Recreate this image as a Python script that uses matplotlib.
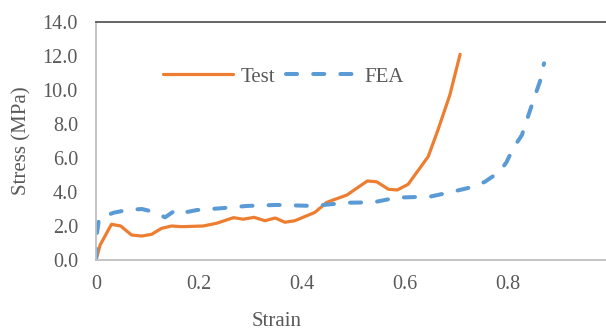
import matplotlib
matplotlib.use("Agg")
import matplotlib.pyplot as plt

test_strain = [0, 0.008, 0.03, 0.048, 0.069, 0.089, 0.108, 0.127, 0.147, 0.166, 0.208,
               0.234, 0.267, 0.286, 0.307, 0.328, 0.348, 0.357, 0.367, 0.386, 0.425,
               0.448, 0.487, 0.527, 0.545, 0.568, 0.585, 0.606, 0.645, 0.664, 0.687, 0.707]
test_stress = [0, 0.88, 2.1, 2.0, 1.47, 1.41, 1.51, 1.86, 2.0, 1.96, 2.0,
               2.16, 2.49, 2.4, 2.51, 2.31, 2.47, 2.35, 2.22, 2.31, 2.8,
               3.39, 3.82, 4.65, 4.6, 4.16, 4.12, 4.45, 6.08, 7.65, 9.7, 12.1]

fea_strain = [0, 0.002, 0.006, 0.034, 0.06, 0.089, 0.111, 0.134, 0.153, 0.163, 0.196,
              0.241, 0.293, 0.351, 0.422, 0.487, 0.538, 0.584, 0.649, 0.687, 0.733,
              0.755, 0.784, 0.797, 0.81, 0.827, 0.843, 0.854, 0.862, 0.87]
fea_stress = [0, 1.6, 2.45, 2.78, 2.94, 3.0, 2.84, 2.51, 2.9, 2.74, 2.94,
              3.04, 3.18, 3.24, 3.18, 3.37, 3.39, 3.67, 3.73, 3.98, 4.31,
              4.6, 5.2, 5.75, 6.57, 7.35, 8.82, 9.8, 10.5, 11.57]

y_ticks = [0, 2, 4, 6, 8, 10, 12, 14]
x_ticks = [0, 0.2, 0.4, 0.6, 0.8]
x_tick_labels = ["0", "0.2", "0.4", "0.6", "0.8"]

plt.rcParams['font.family'] = ['Liberation Serif', 'DejaVu Serif']
W, H = 606, 329
fig = plt.figure(figsize=(W / 100, H / 100), dpi=100)
ax = fig.add_axes([96 / W, (H - 260) / H, 1 - 96 / W, (260 - 22) / H])

ax.plot(test_strain, test_stress, color='#ED7D31', lw=2.3, label='Test',
        solid_capstyle='round', solid_joinstyle='round')
ax.plot(fea_strain, fea_stress, color='#5B9BD5', lw=2.9, label='FEA',
        linestyle=(0, (2.75, 4.0)), dash_capstyle='round')

ax.set_xlim(0, (W - 96) / 515)
ax.set_ylim(0, 14)
ax.set_yticks(y_ticks)
ax.set_yticklabels([f"{v:.1f}" for v in y_ticks])
ax.set_xticks(x_ticks)
ax.set_xticklabels(x_tick_labels)
ax.tick_params(axis='both', length=0, labelsize=14.5, labelcolor='#595959')
ax.tick_params(axis='x', pad=11)
ax.tick_params(axis='y', pad=13)

for s in ['right']:
    ax.spines[s].set_visible(False)
ax.spines['left'].set_color('#BFBFBF')
ax.spines['bottom'].set_color('#BFBFBF')
ax.spines['left'].set_linewidth(1.3)
ax.spines['bottom'].set_linewidth(1.3)
ax.spines['top'].set_color('#595959')
ax.spines['top'].set_linewidth(1.3)

fig.text(22 / W, 1 - 141 / H, 'Stress (MPa)', rotation=90, ha='center', va='center',
         fontsize=15, color='#595959')
fig.text(277 / W, 1 - 321 / H, 'Strain', ha='center', va='center',
         fontsize=15, color='#595959')

leg = ax.legend(ncol=2, loc='center', bbox_to_anchor=((283 - 96) / (W - 96), (260 - 77) / 238),
                frameon=False, fontsize=15, handlelength=3.4, handletextpad=0.35,
                columnspacing=0.5, borderpad=0, borderaxespad=0)
for t in leg.get_texts():
    t.set_color('#595959')

fig.savefig('out.png', dpi=100)
